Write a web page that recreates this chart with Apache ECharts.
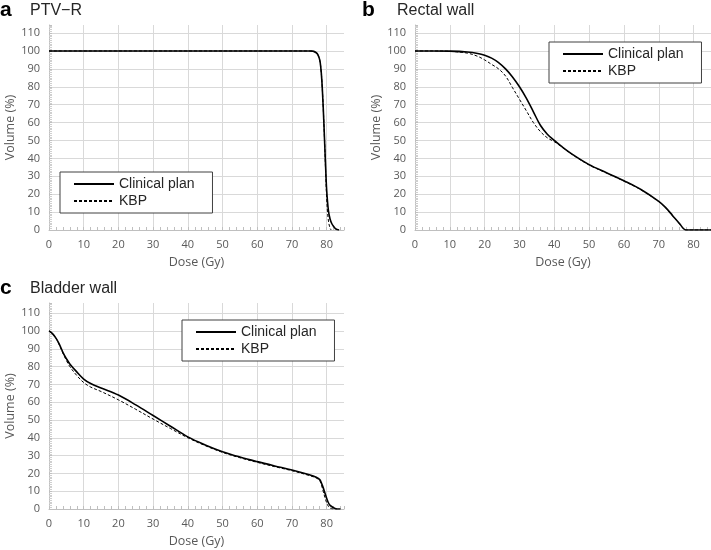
<!DOCTYPE html>
<html>
<head>
<meta charset="utf-8">
<script src="https://cdn.jsdelivr.net/npm/echarts@6/dist/echarts.min.js"></script>
<style>html,body{margin:0;padding:0;background:#fff}#c{width:711px;height:550px}</style>
</head>
<body>
<div id="c"></div>
<script>
// ---- data: [dose (Gy), volume (%)] ----
var ptvClinical = [[0,100],[70,100],[75,100],[76,99.9],[77,99],[77.5,97.8],[78,95],[78.3,91],[78.6,84],[79,69],[79.4,50],[79.7,35.5],[80,22.5],[80.5,11],[81,6],[81.5,3.5],[82,2],[82.5,0.8],[83,0.3],[83.6,0]];
var ptvKBP = [[0,100],[70,100],[75,100],[76,99.9],[77,99],[77.5,97.8],[78,95],[78.3,91],[78.6,84],[79,69],[79.4,50],[79.7,33],[80,18],[80.3,9],[80.6,4],[81,1],[81.3,0]];
var rectalClinical = [[0,100],[5,100],[10,99.9],[15,99.4],[18,98.6],[20,97.6],[22,96],[24,93.5],[26,90],[28,85.5],[30,80],[32,73.5],[34,66],[36,58.5],[38,53.5],[40,50],[42,46.8],[45,42.5],[50,36.5],[55,32],[60,27.5],[65,22.5],[70,16],[72,12.5],[74,8],[76,3.5],[77,1],[77.8,0],[85,0]];
var rectalKBP = [[0,100],[5,100],[10,99.8],[15,98.8],[18,97],[20,95],[22,92.5],[24,90],[26,86],[28,79.5],[30,73],[32,66.5],[34,60],[36,55],[38,51.5],[40,49.3],[42,46.6],[45,42.3],[50,36.3],[55,31.8],[60,27.3],[65,22.3],[70,15.8],[72,12.3],[74,7.8],[76,3.3],[77,0.9],[77.8,0],[85,0]];
var bladderClinical = [[0,100],[1,98.5],[2,96],[3,92.5],[4,88],[5,84.5],[6,81.5],[8,77],[10,73],[12,70.5],[15,68],[20,64],[25,58.5],[30,52.5],[35,46.5],[40,40.5],[45,36],[50,32.2],[55,29.2],[60,26.6],[65,24.2],[70,21.9],[75,19.2],[77,17.8],[78,16.5],[78.5,14.5],[79,12],[79.5,9],[80,6],[80.5,3.5],[81,2],[82,0.7],[83,0],[84,0]];
var bladderKBP = [[0,100],[1,98.5],[2,96],[3,92],[4,87.5],[5,83.5],[6,80],[8,75],[10,71],[12,68.5],[15,66],[20,61.3],[25,56],[30,50.5],[35,45.2],[40,40],[45,35.6],[50,31.8],[55,28.8],[60,26.2],[65,23.8],[70,21.5],[75,18.8],[77,17.4],[78,16],[78.5,13.5],[79,10],[79.5,6.5],[80,3.5],[80.5,1.5],[81,0.5],[82,0],[83,0]];
var panelLetters = ['a','b','c'];
var panelTitles = ['PTV\u2212R','Rectal wall','Bladder wall'];
var seriesNames = ['Clinical plan','KBP'];
var xName = 'Dose (Gy)';
var yName = 'Volume (%)';

var grids = [
  {left:49, top:25, width:295, height:205},
  {left:415, top:25, width:297, height:205},
  {left:49, top:303, width:295, height:206}
];
var yMaxes = [114.5, 114.5, 115.7];
var legendPos = [{left:60, top:172},{left:549, top:42},{left:182, top:320}];
var titlePos = [{x:0,y:0,tx:30,ty:3},{x:362,y:0,tx:397,ty:3},{x:0,y:278,tx:30,ty:281}];
var data = [[ptvClinical, ptvKBP],[rectalClinical, rectalKBP],[bladderClinical, bladderKBP]];

var tickFont = {fontFamily:'Open Sans', fontSize:11, color:'#595959'};
var xAxes = [], yAxes = [], series = [], legends = [], titles = [];
for (var i = 0; i < 3; i++) {
  xAxes.push({
    type:'value', gridIndex:i, min:0, max:85, interval:10,
    name:xName, nameLocation:'middle', nameGap:26,
    nameTextStyle:{fontFamily:'Open Sans', fontSize:12.5, color:'#595959'},
    axisLine:{show:true, lineStyle:{color:'#bfbfbf', width:1}},
    axisTick:{show:true, inside:true, length:3, lineStyle:{color:'#bfbfbf'}},
    minorTick:{show:true, splitNumber:5, length:3, lineStyle:{color:'#bfbfbf'}},
    axisLabel:Object.assign({margin:9, showMaxLabel:false}, tickFont),
    splitLine:{show:true, showMinLine:false, showMaxLine:false, lineStyle:{color:'#d9d9d9', width:1}}
  });
  yAxes.push({
    type:'value', gridIndex:i, min:0, max:yMaxes[i], interval:10,
    name:yName, nameLocation:'middle', nameGap:32,
    nameTextStyle:{fontFamily:'Open Sans', fontSize:12.5, color:'#595959'},
    axisLine:{show:true, lineStyle:{color:'#bfbfbf', width:1}},
    axisTick:{show:true, inside:true, length:3, lineStyle:{color:'#bfbfbf'}},
    minorTick:{show:true, splitNumber:10, length:3, lineStyle:{color:'#cfcfcf'}},
    axisLabel:Object.assign({margin:9, showMaxLabel:false}, tickFont),
    splitLine:{show:true, showMinLine:false, showMaxLine:false, lineStyle:{color:'#d9d9d9', width:1}}
  });
  series.push({
    name:seriesNames[0], type:'line', xAxisIndex:i, yAxisIndex:i, data:data[i][0],
    symbol:'none', smooth:0.35,
    lineStyle:{color:'#000', width:1.6, type:'solid'}, itemStyle:{color:'#000'}
  });
  series.push({
    name:seriesNames[1], type:'line', xAxisIndex:i, yAxisIndex:i, data:data[i][1],
    symbol:'none', smooth:0.35,
    lineStyle:{color:'#000', width:1, type:[3,2]}, itemStyle:{color:'#000'}
  });
  legends.push({
    data:seriesNames, orient:'vertical', left:legendPos[i].left, top:legendPos[i].top,
    padding:[5,18,5,13], itemGap:3, itemWidth:40, itemHeight:17, itemTextGap:8,
    borderColor:'#404040', borderWidth:1, backgroundColor:'#fff',
    selectedMode:false,
    itemStyle:{opacity:0, borderWidth:0},
    textStyle:{fontFamily:'Liberation Sans', fontSize:14, color:'#262626'}
  });
  titles.push({
    text:panelLetters[i], left:titlePos[i].x, top:titlePos[i].y, padding:0,
    textStyle:{fontFamily:'Liberation Sans', fontSize:21, fontWeight:'bold', color:'#000'}
  });
  titles.push({
    text:panelTitles[i], left:titlePos[i].tx, top:titlePos[i].ty, padding:0,
    textStyle:{fontFamily:'Liberation Sans', fontSize:16, fontWeight:'normal', color:'#262626'}
  });
}

var chart = echarts.init(document.getElementById('c'), null, {renderer:'canvas'});
chart.setOption({
  animation:false,
  backgroundColor:'#fff',
  title:titles,
  legend:legends,
  grid:grids,
  xAxis:xAxes,
  yAxis:yAxes,
  series:series
});
</script>
</body>
</html>
